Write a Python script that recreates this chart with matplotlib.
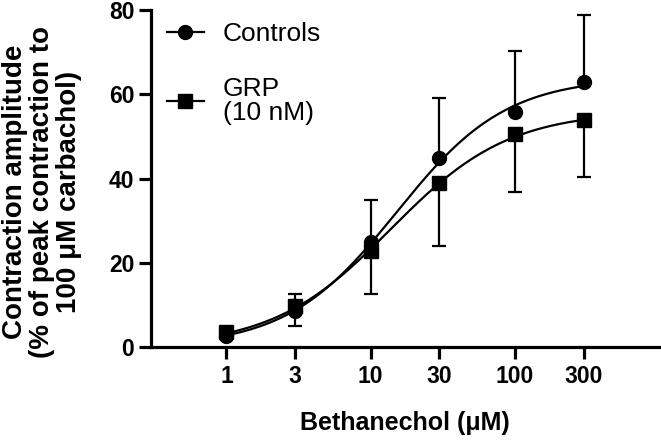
import numpy as np
import matplotlib
matplotlib.use('Agg')
import matplotlib.pyplot as plt

# Bethanechol concentrations (uM)
conc = [1, 3, 10, 30, 100, 300]
tick_labels = ['1', '3', '10', '30', '100', '300']

# Mean contraction amplitude (% of carbachol peak) and SEM
controls_mean = [2.5, 8.5, 25.0, 44.8, 55.7, 63.0]
controls_err = [0.8, 4.0, 10.0, 14.3, 14.6, 15.7]
grp_mean = [3.5, 9.8, 22.8, 39.0, 50.6, 53.8]
grp_err = [0.8, 4.8, 10.2, 15.0, 13.8, 13.4]


def hill(x, top, logec50, n):
    return top / (1.0 + (10.0 ** logec50 / x) ** n)


def fit_hill(x, y):
    # brute force least squares over a parameter grid (bottom fixed at 0)
    x = np.asarray(x, float)
    y = np.asarray(y, float)
    tops = np.arange(40, 100, 0.5)
    logs = np.arange(0.0, 2.5, 0.02)
    ns = np.arange(0.5, 2.0, 0.02)
    T, L, N = np.meshgrid(tops, logs, ns, indexing='ij')
    pred = T[..., None] / (1.0 + (10.0 ** L[..., None] / x) ** N[..., None])
    sse = ((pred - y) ** 2).sum(axis=-1)
    i = np.unravel_index(np.argmin(sse), sse.shape)
    return T[i], L[i], N[i]


plt.rcParams['font.family'] = ['Liberation Sans', 'DejaVu Sans']

fig = plt.figure(figsize=(6.61, 4.43), dpi=100)
ax = fig.add_axes([0.2285, 0.2167, 0.7685, 0.7607])

xs = np.logspace(0, np.log10(300), 300)
series = [
    ('Controls', controls_mean, controls_err, 'o', 1),
    ('GRP\n(10 nM)', grp_mean, grp_err, 's', -1),
]
for label, mean, err, marker, side in series:
    p = fit_hill(conc, mean)
    ax.plot(xs, hill(xs, *p), color='black', lw=1.6, zorder=2)
    if side > 0:
        yerr = [np.zeros(len(err)), err]
    else:
        yerr = [err, np.zeros(len(err))]
    ax.errorbar(conc, mean, yerr=yerr, fmt='none', ecolor='black',
                elinewidth=1.6, capsize=4.8, capthick=1.6, zorder=1)
    ax.plot(conc, mean, linestyle='none', marker=marker, color='black',
            markersize=10, zorder=3)
    # legend handle
    ax.plot([], [], color='black', lw=1.6, marker=marker,
            markersize=10, label=label)

ax.set_xscale('log')
ax.set_xlim(0.3, 1000)
ax.set_ylim(0, 80)
ax.set_xticks(conc)
ax.set_xticklabels(tick_labels)
ax.minorticks_off()
ax.set_yticks([0, 20, 40, 60, 80])

for s in ['top', 'right']:
    ax.spines[s].set_visible(False)
for s in ['left', 'bottom']:
    ax.spines[s].set_linewidth(2.3)
ax.tick_params(axis='both', width=2.3, length=8.5, labelsize=16.5)
ax.tick_params(axis='y', pad=3.5)
ax.tick_params(axis='x', pad=4.5)
for lab in ax.get_xticklabels() + ax.get_yticklabels():
    lab.set_fontweight('bold')

ax.set_xlabel('Bethanechol (\u03bcM)', fontsize=18, fontweight='bold')
ax.xaxis.set_label_coords(0.5, -0.19)
ax.set_ylabel('Contraction amplitude\n(% of peak contraction to\n100 \u03bcM carbachol)',
              fontsize=20, fontweight='bold', linespacing=1.05)
ax.yaxis.set_label_coords(-0.136, 0.46)

leg = ax.legend(loc='upper left', bbox_to_anchor=(0.031, 0.963), frameon=False,
                fontsize=19, handlelength=1.4, handletextpad=0.72,
                labelspacing=1.15, borderpad=0, borderaxespad=0)
for t in leg.get_texts():
    t.set_linespacing(1.02)

fig.savefig('out.png', dpi=100)
